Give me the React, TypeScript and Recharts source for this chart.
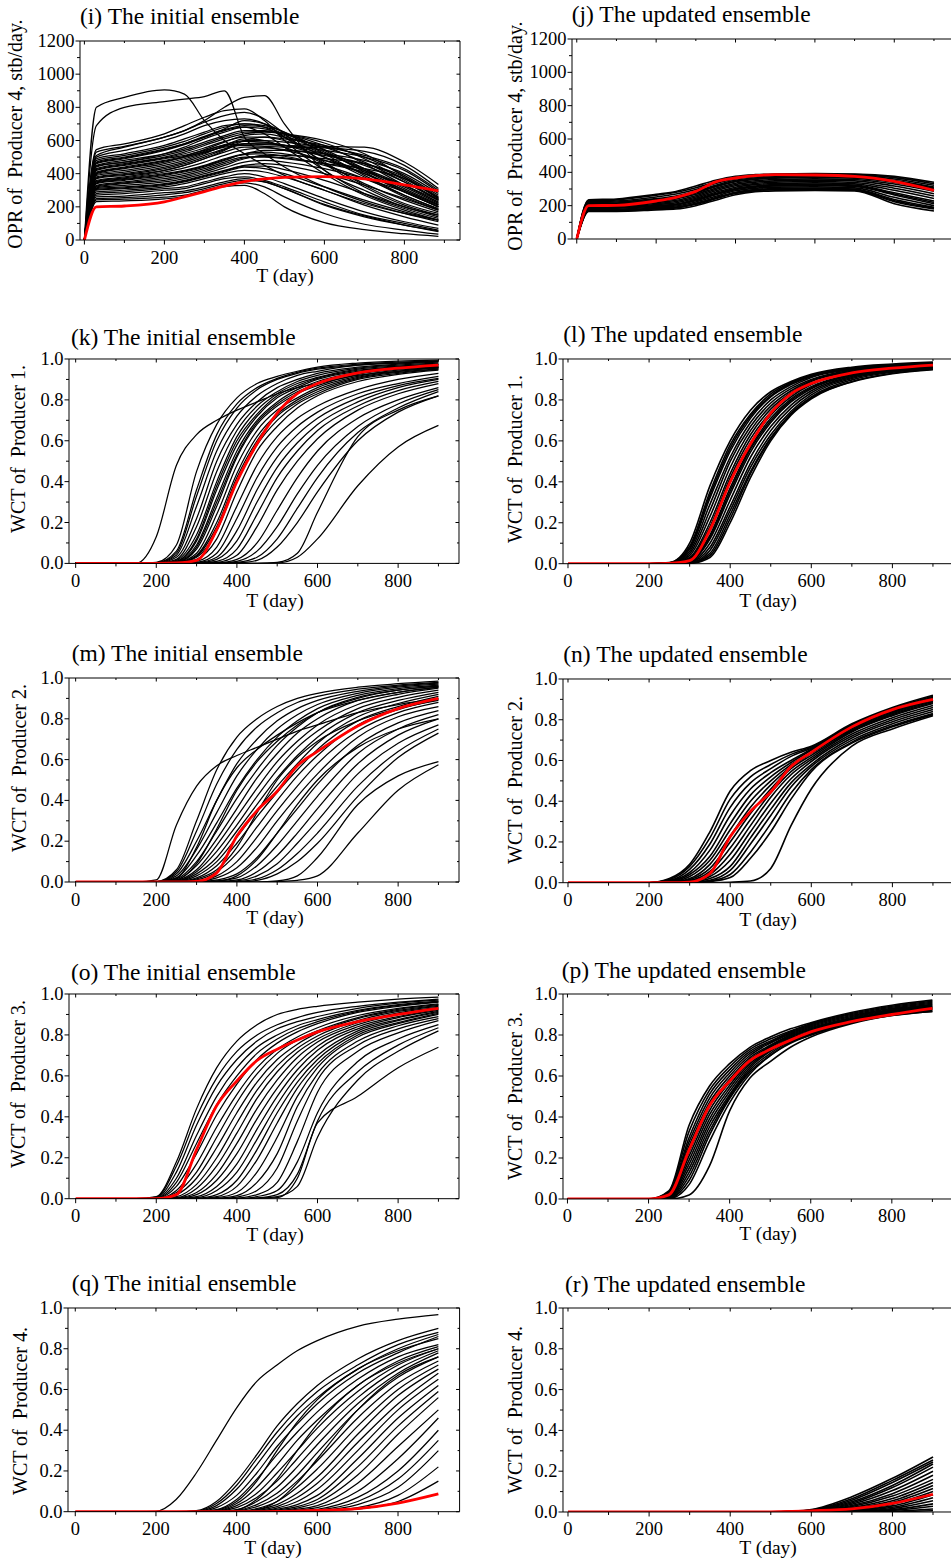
import React from "react";
import { LineChart, Line, XAxis, YAxis, ReferenceLine } from "recharts";

const SERIF = '"Liberation Serif", "Times New Roman", Times, serif';

// ---- ticks ----
const X_TICKS = [0, 100, 200, 300, 400, 500, 600, 700, 800, 900];
const X_TICK_LABELS = [0, 200, 400, 600, 800];
const OPR_TICKS = [0, 100, 200, 300, 400, 500, 600, 700, 800, 900, 1000, 1100, 1200];
const OPR_TICK_LABELS = [0, 200, 400, 600, 800, 1000, 1200];
const WCT_TICKS = [0, 0.1, 0.2, 0.3, 0.4, 0.5, 0.6, 0.7, 0.8, 0.9, 1];
const WCT_TICK_LABELS = [0, 0.2, 0.4, 0.6, 0.8, 1];

// ---- time grids (day) ----
const T_OPR_INIT = [0, 30, 100, 200, 250, 300, 350, 400, 450, 500, 600, 700, 800, 885];
const T_OPR_UPD = [0, 30, 100, 200, 250, 300, 350, 400, 450, 500, 600, 700, 800, 900];
const T_WCT = [0, 150, 200, 250, 300, 350, 400, 450, 500, 550, 600, 700, 800, 900];

// ---- (i) OPR producer 4, initial ensemble ----
const OPR_INIT_TRUTH = [0, 200, 205, 230, 260, 292, 325, 352, 368, 378, 382, 368, 332, 296];
const OPR_INIT_MEMBERS = [
  [0, 800, 860, 905, 880, 720, 600, 520, 450, 390, 300, 220, 160, 120],
  [0, 690, 800, 835, 850, 865, 900, 620, 520, 440, 320, 230, 160, 110],
  [0, 510, 560, 620, 660, 720, 800, 860, 870, 700, 420, 300, 200, 150],
  [0, 545, 580, 640, 690, 740, 780, 790, 720, 600, 420, 280, 190, 130],
  [0, 530, 565, 620, 660, 710, 750, 770, 730, 640, 460, 320, 210, 150],
  [0, 500, 540, 600, 640, 690, 720, 730, 700, 620, 470, 330, 220, 160],
  [0, 490, 520, 570, 610, 650, 690, 700, 680, 620, 500, 380, 260, 180],
  [0, 480, 510, 560, 595, 640, 680, 700, 690, 650, 540, 410, 290, 200],
  [0, 470, 500, 550, 580, 620, 660, 680, 670, 630, 530, 420, 300, 210],
  [0, 465, 495, 545, 580, 625, 665, 690, 680, 640, 545, 430, 310, 215],
  [0, 460, 490, 540, 575, 620, 670, 720, 700, 650, 520, 390, 270, 190],
  [0, 450, 480, 520, 550, 590, 630, 660, 660, 640, 570, 460, 330, 230],
  [0, 445, 470, 510, 540, 580, 620, 650, 655, 640, 585, 490, 360, 245],
  [0, 440, 470, 520, 560, 610, 650, 680, 640, 560, 400, 270, 180, 120],
  [0, 430, 460, 500, 530, 570, 610, 640, 650, 640, 600, 520, 380, 250],
  [0, 425, 455, 495, 520, 555, 595, 620, 620, 610, 570, 500, 390, 270],
  [0, 420, 450, 490, 510, 540, 570, 580, 575, 570, 565, 560, 470, 335],
  [0, 410, 440, 480, 505, 545, 590, 630, 640, 620, 560, 470, 350, 240],
  [0, 405, 435, 475, 500, 535, 575, 600, 600, 590, 560, 510, 430, 300],
  [0, 400, 430, 470, 500, 530, 560, 570, 565, 560, 555, 535, 450, 310],
  [0, 395, 420, 460, 490, 525, 565, 595, 590, 570, 500, 400, 290, 200],
  [0, 390, 410, 450, 480, 520, 570, 610, 600, 560, 460, 340, 240, 170],
  [0, 380, 400, 440, 470, 510, 550, 580, 580, 570, 540, 500, 420, 290],
  [0, 375, 395, 430, 460, 500, 545, 580, 585, 570, 520, 450, 350, 240],
  [0, 370, 390, 420, 450, 490, 530, 560, 560, 540, 480, 400, 300, 210],
  [0, 360, 380, 420, 450, 490, 540, 600, 620, 600, 520, 430, 330, 240],
  [0, 355, 375, 410, 435, 470, 510, 545, 555, 545, 510, 460, 370, 255],
  [0, 350, 370, 400, 420, 450, 490, 520, 530, 520, 480, 420, 320, 220],
  [0, 345, 365, 395, 415, 445, 485, 515, 520, 505, 450, 370, 270, 185],
  [0, 340, 360, 390, 410, 440, 480, 520, 540, 540, 520, 480, 400, 280],
  [0, 330, 350, 380, 400, 430, 470, 500, 500, 490, 460, 430, 370, 250],
  [0, 325, 345, 370, 390, 420, 460, 495, 505, 495, 460, 410, 330, 225],
  [0, 320, 340, 360, 380, 410, 450, 490, 510, 510, 490, 460, 380, 260],
  [0, 315, 330, 350, 370, 400, 435, 470, 480, 470, 430, 370, 290, 200],
  [0, 310, 320, 340, 360, 390, 420, 450, 460, 450, 400, 330, 250, 180],
  [0, 305, 315, 335, 355, 385, 415, 445, 445, 425, 360, 280, 200, 140],
  [0, 300, 310, 330, 350, 380, 410, 440, 430, 400, 320, 240, 170, 120],
  [0, 290, 300, 320, 340, 370, 400, 420, 410, 380, 300, 210, 140, 90],
  [0, 280, 290, 310, 320, 350, 380, 400, 380, 340, 250, 170, 110, 70],
  [0, 270, 280, 300, 310, 340, 370, 380, 360, 320, 230, 150, 100, 60],
  [0, 260, 265, 285, 295, 320, 350, 370, 350, 310, 215, 145, 90, 50],
  [0, 250, 255, 272, 285, 310, 340, 360, 350, 310, 210, 140, 90, 55],
  [0, 242, 246, 258, 270, 300, 330, 345, 320, 260, 160, 95, 60, 35],
  [0, 232, 236, 248, 262, 296, 322, 330, 280, 200, 105, 62, 38, 22],
];

// ---- (j) OPR producer 4, updated ensemble ----
const OPR_UPD_TRUTH = [0, 200, 202, 228, 250, 286, 343, 366, 380, 386, 384, 376, 346, 292];
const OPR_UPD_MEMBERS = [
  [0, 235, 240, 268, 285, 318, 352, 376, 386, 390, 392, 390, 376, 340],
  [0, 230, 235, 262, 280, 308, 342, 368, 380, 386, 389, 386, 368, 332],
  [0, 225, 228, 252, 270, 297, 333, 360, 373, 380, 383, 380, 360, 322],
  [0, 220, 222, 242, 258, 286, 323, 352, 366, 373, 377, 373, 350, 312],
  [0, 215, 216, 233, 248, 276, 313, 343, 357, 365, 369, 365, 340, 300],
  [0, 212, 213, 236, 252, 280, 317, 347, 361, 369, 373, 369, 345, 306],
  [0, 210, 210, 226, 240, 268, 305, 335, 349, 357, 361, 357, 330, 287],
  [0, 205, 205, 219, 232, 260, 297, 327, 341, 349, 353, 349, 318, 272],
  [0, 200, 200, 213, 225, 252, 289, 319, 333, 341, 345, 339, 305, 258],
  [0, 195, 195, 207, 218, 245, 281, 311, 326, 333, 337, 331, 292, 243],
  [0, 190, 190, 201, 210, 238, 273, 303, 318, 326, 329, 323, 278, 228],
  [0, 188, 188, 199, 207, 234, 269, 300, 315, 322, 325, 319, 270, 220],
  [0, 185, 185, 196, 204, 230, 265, 296, 311, 319, 321, 316, 264, 212],
  [0, 180, 180, 191, 198, 222, 257, 289, 304, 311, 313, 307, 250, 200],
  [0, 175, 175, 186, 192, 215, 249, 281, 297, 303, 305, 299, 237, 190],
  [0, 172, 172, 183, 189, 211, 245, 277, 293, 300, 301, 296, 230, 185],
  [0, 170, 170, 181, 186, 208, 241, 273, 290, 296, 297, 293, 224, 180],
  [0, 166, 166, 175, 180, 200, 233, 266, 284, 289, 291, 289, 212, 168],
];

// ---- WCT truths ----
const WCT_P1_TRUTH = [0, 0, 0, 0.002, 0.015, 0.165, 0.4, 0.585, 0.735, 0.83, 0.88, 0.932, 0.955, 0.97];
const WCT_P2_TRUTH = [0, 0, 0, 0, 0.003, 0.045, 0.225, 0.35, 0.445, 0.57, 0.64, 0.765, 0.85, 0.9];
const WCT_P3_TRUTH = [0, 0, 0, 0.02, 0.24, 0.455, 0.575, 0.675, 0.73, 0.775, 0.815, 0.865, 0.9, 0.93];
const WCT_P4_TRUTH = [0, 0, 0, 0, 0, 0, 0, 0, 0.001, 0.003, 0.006, 0.015, 0.042, 0.087];

// ---- (k) WCT producer 1, initial ----
const WCT_P1_INIT = [
  [0, 0, 0.13, 0.48, 0.63, 0.7, 0.75, 0.79, 0.83, 0.86, 0.88, 0.92, 0.94, 0.96],
  [0, 0, 0.005, 0.09, 0.45, 0.68, 0.81, 0.88, 0.915, 0.94, 0.96, 0.98, 0.99, 0.995],
  [0, 0, 0.003, 0.06, 0.36, 0.63, 0.78, 0.86, 0.905, 0.935, 0.955, 0.975, 0.985, 0.99],
  [0, 0, 0.002, 0.05, 0.33, 0.6, 0.76, 0.85, 0.9, 0.93, 0.95, 0.97, 0.98, 0.99],
  [0, 0, 0.002, 0.04, 0.28, 0.55, 0.72, 0.82, 0.88, 0.92, 0.94, 0.97, 0.98, 0.988],
  [0, 0, 0.001, 0.03, 0.22, 0.5, 0.68, 0.79, 0.86, 0.9, 0.93, 0.96, 0.975, 0.985],
  [0, 0, 0, 0.02, 0.18, 0.45, 0.65, 0.77, 0.84, 0.89, 0.92, 0.955, 0.97, 0.98],
  [0, 0, 0, 0.015, 0.14, 0.4, 0.62, 0.75, 0.83, 0.88, 0.91, 0.95, 0.965, 0.975],
  [0, 0, 0, 0.01, 0.12, 0.38, 0.6, 0.73, 0.82, 0.87, 0.905, 0.945, 0.962, 0.972],
  [0, 0, 0, 0.01, 0.11, 0.36, 0.58, 0.72, 0.81, 0.86, 0.9, 0.94, 0.96, 0.97],
  [0, 0, 0, 0.008, 0.09, 0.32, 0.55, 0.7, 0.79, 0.85, 0.89, 0.935, 0.955, 0.965],
  [0, 0, 0, 0.006, 0.08, 0.3, 0.53, 0.69, 0.78, 0.84, 0.88, 0.93, 0.952, 0.962],
  [0, 0, 0, 0.005, 0.07, 0.28, 0.52, 0.68, 0.77, 0.83, 0.87, 0.925, 0.95, 0.96],
  [0, 0, 0, 0.004, 0.05, 0.24, 0.48, 0.65, 0.75, 0.81, 0.86, 0.915, 0.945, 0.958],
  [0, 0, 0, 0.003, 0.04, 0.2, 0.44, 0.62, 0.73, 0.8, 0.85, 0.91, 0.94, 0.955],
  [0, 0, 0, 0.002, 0.035, 0.18, 0.42, 0.6, 0.72, 0.79, 0.84, 0.905, 0.935, 0.952],
  [0, 0, 0, 0.002, 0.03, 0.16, 0.4, 0.58, 0.7, 0.78, 0.83, 0.9, 0.93, 0.95],
  [0, 0, 0, 0.001, 0.02, 0.12, 0.35, 0.55, 0.67, 0.76, 0.82, 0.89, 0.925, 0.945],
  [0, 0, 0, 0, 0.01, 0.08, 0.28, 0.48, 0.62, 0.71, 0.77, 0.85, 0.9, 0.93],
  [0, 0, 0, 0, 0.005, 0.05, 0.22, 0.42, 0.57, 0.67, 0.74, 0.83, 0.88, 0.915],
  [0, 0, 0, 0, 0.003, 0.03, 0.16, 0.36, 0.52, 0.63, 0.71, 0.81, 0.87, 0.905],
  [0, 0, 0, 0, 0.002, 0.02, 0.11, 0.3, 0.47, 0.59, 0.68, 0.79, 0.86, 0.9],
  [0, 0, 0, 0, 0.001, 0.01, 0.07, 0.24, 0.42, 0.55, 0.65, 0.77, 0.845, 0.89],
  [0, 0, 0, 0, 0, 0.005, 0.04, 0.18, 0.36, 0.5, 0.61, 0.75, 0.83, 0.88],
  [0, 0, 0, 0, 0, 0.002, 0.02, 0.1, 0.26, 0.42, 0.55, 0.71, 0.8, 0.86],
  [0, 0, 0, 0, 0, 0, 0.01, 0.06, 0.18, 0.34, 0.48, 0.67, 0.78, 0.85],
  [0, 0, 0, 0, 0, 0, 0.005, 0.03, 0.12, 0.27, 0.42, 0.64, 0.76, 0.84],
  [0, 0, 0, 0, 0, 0, 0.002, 0.015, 0.08, 0.2, 0.35, 0.6, 0.74, 0.82],
  [0, 0, 0, 0, 0, 0, 0, 0, 0.005, 0.05, 0.25, 0.62, 0.75, 0.82],
  [0, 0, 0, 0, 0, 0, 0, 0, 0.002, 0.03, 0.12, 0.38, 0.57, 0.675],
];

// ---- (l) WCT producer 1, updated ----
const WCT_P1_UPD = [
  [0, 0, 0, 0.005, 0.1, 0.38, 0.6, 0.75, 0.84, 0.89, 0.925, 0.96, 0.975, 0.985],
  [0, 0, 0, 0.004, 0.085, 0.35, 0.58, 0.73, 0.83, 0.885, 0.92, 0.955, 0.972, 0.982],
  [0, 0, 0, 0.003, 0.075, 0.335, 0.565, 0.72, 0.82, 0.88, 0.918, 0.953, 0.971, 0.981],
  [0, 0, 0, 0.003, 0.07, 0.32, 0.55, 0.71, 0.815, 0.875, 0.915, 0.952, 0.97, 0.98],
  [0, 0, 0, 0.002, 0.06, 0.29, 0.52, 0.69, 0.8, 0.865, 0.91, 0.948, 0.968, 0.978],
  [0, 0, 0, 0.002, 0.05, 0.26, 0.5, 0.67, 0.785, 0.855, 0.9, 0.945, 0.965, 0.976],
  [0, 0, 0, 0.001, 0.04, 0.23, 0.47, 0.65, 0.77, 0.845, 0.895, 0.94, 0.962, 0.974],
  [0, 0, 0, 0.001, 0.03, 0.2, 0.44, 0.63, 0.755, 0.835, 0.89, 0.937, 0.96, 0.972],
  [0, 0, 0, 0, 0.025, 0.18, 0.42, 0.61, 0.74, 0.825, 0.88, 0.933, 0.957, 0.97],
  [0, 0, 0, 0, 0.02, 0.16, 0.4, 0.59, 0.725, 0.815, 0.875, 0.93, 0.955, 0.968],
  [0, 0, 0, 0, 0.015, 0.14, 0.37, 0.57, 0.71, 0.805, 0.865, 0.925, 0.952, 0.966],
  [0, 0, 0, 0, 0.012, 0.13, 0.355, 0.56, 0.7, 0.798, 0.86, 0.922, 0.951, 0.965],
  [0, 0, 0, 0, 0.01, 0.12, 0.34, 0.545, 0.69, 0.79, 0.855, 0.92, 0.95, 0.964],
  [0, 0, 0, 0, 0.008, 0.1, 0.31, 0.52, 0.67, 0.775, 0.845, 0.915, 0.946, 0.962],
  [0, 0, 0, 0, 0.006, 0.08, 0.28, 0.49, 0.65, 0.76, 0.835, 0.91, 0.943, 0.96],
  [0, 0, 0, 0, 0.004, 0.065, 0.26, 0.47, 0.63, 0.745, 0.825, 0.905, 0.94, 0.957],
  [0, 0, 0, 0, 0.003, 0.05, 0.24, 0.45, 0.615, 0.735, 0.815, 0.898, 0.936, 0.954],
  [0, 0, 0, 0, 0.002, 0.04, 0.22, 0.44, 0.61, 0.73, 0.81, 0.89, 0.93, 0.95],
  [0, 0, 0, 0, 0.001, 0.03, 0.2, 0.42, 0.6, 0.725, 0.805, 0.888, 0.928, 0.948],
];

// ---- (m) WCT producer 2, initial ----
const WCT_P2_INIT = [
  [0, 0, 0.01, 0.28, 0.47, 0.57, 0.62, 0.66, 0.7, 0.74, 0.77, 0.83, 0.87, 0.9],
  [0, 0, 0.002, 0.06, 0.3, 0.55, 0.71, 0.8, 0.86, 0.9, 0.925, 0.955, 0.972, 0.985],
  [0, 0, 0.001, 0.05, 0.25, 0.48, 0.65, 0.76, 0.83, 0.88, 0.91, 0.945, 0.965, 0.978],
  [0, 0, 0, 0.04, 0.2, 0.4, 0.58, 0.7, 0.79, 0.85, 0.89, 0.935, 0.96, 0.975],
  [0, 0, 0, 0.03, 0.16, 0.34, 0.52, 0.65, 0.75, 0.82, 0.87, 0.925, 0.955, 0.97],
  [0, 0, 0, 0.02, 0.13, 0.29, 0.46, 0.6, 0.71, 0.79, 0.85, 0.915, 0.948, 0.965],
  [0, 0, 0, 0.015, 0.1, 0.25, 0.41, 0.55, 0.67, 0.76, 0.83, 0.905, 0.94, 0.96],
  [0, 0, 0, 0.01, 0.08, 0.21, 0.36, 0.51, 0.63, 0.73, 0.8, 0.89, 0.93, 0.955],
  [0, 0, 0, 0.008, 0.06, 0.18, 0.32, 0.46, 0.59, 0.69, 0.77, 0.87, 0.92, 0.95],
  [0, 0, 0, 0.005, 0.05, 0.15, 0.28, 0.42, 0.55, 0.66, 0.74, 0.85, 0.905, 0.94],
  [0, 0, 0, 0.004, 0.04, 0.12, 0.25, 0.38, 0.51, 0.62, 0.71, 0.83, 0.89, 0.93],
  [0, 0, 0, 0.003, 0.03, 0.1, 0.22, 0.35, 0.47, 0.58, 0.68, 0.81, 0.875, 0.92],
  [0, 0, 0, 0.002, 0.02, 0.08, 0.19, 0.32, 0.44, 0.55, 0.65, 0.79, 0.86, 0.91],
  [0, 0, 0, 0, 0.01, 0.05, 0.14, 0.27, 0.4, 0.52, 0.62, 0.77, 0.845, 0.895],
  [0, 0, 0, 0, 0.005, 0.03, 0.1, 0.22, 0.35, 0.47, 0.58, 0.74, 0.83, 0.88],
  [0, 0, 0, 0, 0.002, 0.02, 0.07, 0.17, 0.3, 0.42, 0.53, 0.71, 0.81, 0.86],
  [0, 0, 0, 0, 0, 0.01, 0.04, 0.12, 0.24, 0.36, 0.48, 0.67, 0.78, 0.84],
  [0, 0, 0, 0, 0, 0.005, 0.02, 0.08, 0.18, 0.3, 0.42, 0.63, 0.75, 0.82],
  [0, 0, 0, 0, 0, 0.002, 0.01, 0.05, 0.13, 0.24, 0.36, 0.58, 0.72, 0.8],
  [0, 0, 0, 0, 0, 0, 0.005, 0.03, 0.09, 0.19, 0.3, 0.53, 0.68, 0.77],
  [0, 0, 0, 0, 0, 0, 0.002, 0.015, 0.06, 0.14, 0.24, 0.47, 0.64, 0.75],
  [0, 0, 0, 0, 0, 0, 0, 0.008, 0.04, 0.1, 0.19, 0.42, 0.61, 0.73],
  [0, 0, 0, 0, 0, 0, 0, 0, 0.005, 0.03, 0.12, 0.38, 0.52, 0.59],
  [0, 0, 0, 0, 0, 0, 0, 0, 0.002, 0.008, 0.03, 0.24, 0.45, 0.575],
  [0, 0, 0, 0.02, 0.17, 0.4, 0.56, 0.65, 0.72, 0.78, 0.83, 0.89, 0.93, 0.955],
  [0, 0, 0, 0.01, 0.09, 0.26, 0.45, 0.59, 0.69, 0.77, 0.83, 0.9, 0.94, 0.96],
  [0, 0, 0, 0, 0.015, 0.06, 0.17, 0.34, 0.5, 0.61, 0.69, 0.79, 0.85, 0.89],
  [0, 0, 0, 0, 0, 0.004, 0.03, 0.11, 0.24, 0.38, 0.5, 0.66, 0.75, 0.8],
];

// ---- (n) WCT producer 2, updated ----
const WCT_P2_UPD = [
  [0, 0, 0, 0.02, 0.09, 0.25, 0.45, 0.55, 0.6, 0.64, 0.67, 0.78, 0.86, 0.92],
  [0, 0, 0, 0.015, 0.08, 0.22, 0.41, 0.52, 0.58, 0.63, 0.665, 0.775, 0.855, 0.915],
  [0, 0, 0, 0.01, 0.065, 0.19, 0.37, 0.49, 0.56, 0.62, 0.66, 0.77, 0.85, 0.91],
  [0, 0, 0, 0.008, 0.05, 0.16, 0.33, 0.46, 0.54, 0.6, 0.655, 0.765, 0.845, 0.905],
  [0, 0, 0, 0.005, 0.04, 0.13, 0.29, 0.43, 0.52, 0.59, 0.65, 0.76, 0.84, 0.9],
  [0, 0, 0, 0.003, 0.03, 0.11, 0.26, 0.4, 0.5, 0.58, 0.64, 0.755, 0.835, 0.895],
  [0, 0, 0, 0.002, 0.02, 0.09, 0.23, 0.37, 0.48, 0.57, 0.635, 0.75, 0.83, 0.89],
  [0, 0, 0, 0.001, 0.015, 0.07, 0.2, 0.34, 0.46, 0.56, 0.625, 0.745, 0.825, 0.885],
  [0, 0, 0, 0, 0.01, 0.055, 0.17, 0.31, 0.44, 0.545, 0.615, 0.74, 0.82, 0.88],
  [0, 0, 0, 0, 0.007, 0.04, 0.14, 0.28, 0.42, 0.53, 0.605, 0.73, 0.81, 0.87],
  [0, 0, 0, 0, 0.005, 0.03, 0.11, 0.25, 0.39, 0.51, 0.595, 0.72, 0.8, 0.86],
  [0, 0, 0, 0, 0.003, 0.02, 0.08, 0.22, 0.36, 0.49, 0.58, 0.71, 0.79, 0.85],
  [0, 0, 0, 0, 0.002, 0.012, 0.06, 0.19, 0.33, 0.47, 0.57, 0.7, 0.78, 0.84],
  [0, 0, 0, 0, 0.001, 0.008, 0.04, 0.15, 0.29, 0.44, 0.555, 0.69, 0.77, 0.83],
  [0, 0, 0, 0, 0, 0.005, 0.025, 0.12, 0.25, 0.41, 0.545, 0.685, 0.765, 0.825],
  [0, 0, 0, 0, 0, 0, 0.002, 0.008, 0.07, 0.28, 0.46, 0.67, 0.755, 0.82],
];

// ---- (o) WCT producer 3, initial ----
const WCT_P3_INIT = [
  [0, 0, 0.01, 0.18, 0.44, 0.64, 0.77, 0.85, 0.9, 0.925, 0.94, 0.96, 0.975, 0.985],
  [0, 0, 0.008, 0.16, 0.4, 0.59, 0.72, 0.8, 0.85, 0.885, 0.91, 0.94, 0.96, 0.975],
  [0, 0, 0.005, 0.13, 0.36, 0.55, 0.68, 0.77, 0.83, 0.865, 0.89, 0.93, 0.955, 0.97],
  [0, 0, 0.003, 0.1, 0.31, 0.5, 0.64, 0.74, 0.8, 0.845, 0.875, 0.92, 0.948, 0.965],
  [0, 0, 0.002, 0.08, 0.27, 0.46, 0.6, 0.71, 0.78, 0.83, 0.865, 0.915, 0.944, 0.962],
  [0, 0, 0.001, 0.06, 0.22, 0.41, 0.56, 0.68, 0.76, 0.815, 0.855, 0.91, 0.94, 0.96],
  [0, 0, 0, 0.04, 0.17, 0.35, 0.51, 0.64, 0.73, 0.79, 0.835, 0.895, 0.93, 0.952],
  [0, 0, 0, 0.03, 0.13, 0.3, 0.47, 0.61, 0.71, 0.775, 0.82, 0.885, 0.925, 0.948],
  [0, 0, 0, 0.02, 0.1, 0.25, 0.42, 0.57, 0.68, 0.755, 0.81, 0.88, 0.92, 0.945],
  [0, 0, 0, 0.01, 0.07, 0.2, 0.37, 0.53, 0.65, 0.735, 0.795, 0.87, 0.915, 0.94],
  [0, 0, 0, 0.005, 0.05, 0.16, 0.32, 0.49, 0.62, 0.715, 0.78, 0.86, 0.908, 0.935],
  [0, 0, 0, 0.003, 0.03, 0.12, 0.27, 0.44, 0.58, 0.69, 0.765, 0.85, 0.9, 0.93],
  [0, 0, 0, 0.002, 0.02, 0.09, 0.22, 0.39, 0.54, 0.66, 0.745, 0.84, 0.89, 0.925],
  [0, 0, 0, 0, 0.01, 0.06, 0.17, 0.34, 0.5, 0.63, 0.725, 0.83, 0.885, 0.92],
  [0, 0, 0, 0, 0.005, 0.04, 0.13, 0.29, 0.46, 0.6, 0.7, 0.82, 0.875, 0.915],
  [0, 0, 0, 0, 0.002, 0.02, 0.09, 0.24, 0.42, 0.57, 0.68, 0.81, 0.87, 0.91],
  [0, 0, 0, 0, 0, 0.01, 0.06, 0.19, 0.37, 0.54, 0.66, 0.8, 0.86, 0.905],
  [0, 0, 0, 0, 0, 0.005, 0.03, 0.13, 0.3, 0.5, 0.64, 0.79, 0.855, 0.9],
  [0, 0, 0, 0, 0, 0.002, 0.015, 0.08, 0.22, 0.45, 0.61, 0.77, 0.845, 0.89],
  [0, 0, 0, 0, 0, 0, 0.008, 0.04, 0.15, 0.38, 0.58, 0.75, 0.83, 0.88],
  [0, 0, 0, 0, 0, 0, 0.003, 0.02, 0.08, 0.28, 0.52, 0.72, 0.81, 0.87],
  [0, 0, 0, 0, 0, 0, 0, 0.01, 0.04, 0.18, 0.42, 0.67, 0.78, 0.85],
  [0, 0, 0, 0, 0, 0, 0, 0.004, 0.02, 0.12, 0.38, 0.62, 0.75, 0.835],
  [0, 0, 0, 0, 0, 0, 0, 0.002, 0.01, 0.06, 0.3, 0.58, 0.72, 0.82],
  [0, 0, 0, 0, 0, 0, 0, 0, 0.005, 0.1, 0.37, 0.5, 0.64, 0.74],
];

// ---- (p) WCT producer 3, updated ----
const WCT_P3_UPD = [
  [0, 0, 0, 0.04, 0.36, 0.55, 0.66, 0.74, 0.79, 0.83, 0.86, 0.91, 0.945, 0.97],
  [0, 0, 0, 0.035, 0.33, 0.53, 0.645, 0.73, 0.78, 0.82, 0.855, 0.905, 0.94, 0.965],
  [0, 0, 0, 0.03, 0.3, 0.51, 0.63, 0.72, 0.77, 0.815, 0.85, 0.9, 0.935, 0.96],
  [0, 0, 0, 0.025, 0.28, 0.49, 0.615, 0.71, 0.765, 0.81, 0.845, 0.895, 0.93, 0.955],
  [0, 0, 0, 0.02, 0.26, 0.47, 0.6, 0.7, 0.76, 0.805, 0.84, 0.89, 0.926, 0.95],
  [0, 0, 0, 0.015, 0.23, 0.45, 0.585, 0.69, 0.75, 0.8, 0.835, 0.885, 0.922, 0.946],
  [0, 0, 0, 0.012, 0.21, 0.43, 0.57, 0.68, 0.745, 0.795, 0.83, 0.88, 0.918, 0.942],
  [0, 0, 0, 0.01, 0.19, 0.41, 0.555, 0.67, 0.74, 0.79, 0.825, 0.877, 0.915, 0.938],
  [0, 0, 0, 0.008, 0.17, 0.39, 0.54, 0.66, 0.73, 0.785, 0.82, 0.873, 0.912, 0.935],
  [0, 0, 0, 0.006, 0.15, 0.37, 0.525, 0.65, 0.725, 0.78, 0.815, 0.87, 0.908, 0.932],
  [0, 0, 0, 0.004, 0.13, 0.35, 0.51, 0.64, 0.72, 0.775, 0.81, 0.867, 0.905, 0.928],
  [0, 0, 0, 0.003, 0.11, 0.33, 0.5, 0.63, 0.71, 0.77, 0.805, 0.863, 0.902, 0.925],
  [0, 0, 0, 0.002, 0.09, 0.31, 0.49, 0.62, 0.7, 0.765, 0.8, 0.86, 0.9, 0.92],
  [0, 0, 0, 0.001, 0.07, 0.28, 0.47, 0.61, 0.7, 0.76, 0.8, 0.86, 0.895, 0.915],
  [0, 0, 0, 0, 0.02, 0.16, 0.43, 0.59, 0.67, 0.74, 0.79, 0.855, 0.895, 0.915],
];

// ---- (q) WCT producer 4, initial ----
const WCT_P4_INIT = [
  [0, 0, 0.002, 0.06, 0.19, 0.35, 0.51, 0.64, 0.72, 0.79, 0.84, 0.91, 0.945, 0.967],
  [0, 0, 0, 0, 0.005, 0.05, 0.15, 0.28, 0.42, 0.53, 0.62, 0.75, 0.84, 0.9],
  [0, 0, 0, 0, 0.003, 0.04, 0.13, 0.26, 0.39, 0.5, 0.59, 0.72, 0.82, 0.88],
  [0, 0, 0, 0, 0.002, 0.03, 0.11, 0.23, 0.36, 0.47, 0.56, 0.7, 0.8, 0.87],
  [0, 0, 0, 0, 0, 0.02, 0.08, 0.19, 0.32, 0.43, 0.53, 0.68, 0.78, 0.86],
  [0, 0, 0, 0, 0, 0.008, 0.05, 0.15, 0.3, 0.44, 0.55, 0.7, 0.79, 0.85],
  [0, 0, 0, 0, 0, 0.01, 0.06, 0.16, 0.28, 0.39, 0.49, 0.65, 0.76, 0.82],
  [0, 0, 0, 0, 0, 0.005, 0.04, 0.12, 0.23, 0.35, 0.45, 0.62, 0.74, 0.81],
  [0, 0, 0, 0, 0, 0.003, 0.03, 0.09, 0.19, 0.3, 0.41, 0.59, 0.72, 0.8],
  [0, 0, 0, 0, 0, 0, 0.008, 0.06, 0.16, 0.3, 0.43, 0.62, 0.73, 0.8],
  [0, 0, 0, 0, 0, 0.002, 0.02, 0.07, 0.15, 0.26, 0.37, 0.56, 0.7, 0.79],
  [0, 0, 0, 0, 0, 0, 0.01, 0.05, 0.12, 0.22, 0.33, 0.53, 0.68, 0.78],
  [0, 0, 0, 0, 0, 0, 0.006, 0.035, 0.09, 0.18, 0.29, 0.5, 0.66, 0.76],
  [0, 0, 0, 0, 0, 0, 0, 0.01, 0.05, 0.14, 0.26, 0.5, 0.67, 0.76],
  [0, 0, 0, 0, 0, 0, 0.004, 0.025, 0.07, 0.15, 0.25, 0.46, 0.63, 0.74],
  [0, 0, 0, 0, 0, 0, 0.002, 0.015, 0.05, 0.12, 0.21, 0.42, 0.6, 0.72],
  [0, 0, 0, 0, 0, 0, 0, 0.01, 0.035, 0.09, 0.17, 0.38, 0.57, 0.7],
  [0, 0, 0, 0, 0, 0, 0, 0.006, 0.025, 0.07, 0.14, 0.34, 0.53, 0.68],
  [0, 0, 0, 0, 0, 0, 0, 0.004, 0.018, 0.05, 0.11, 0.3, 0.5, 0.65],
  [0, 0, 0, 0, 0, 0, 0, 0.002, 0.012, 0.035, 0.08, 0.26, 0.46, 0.62],
  [0, 0, 0, 0, 0, 0, 0, 0, 0.008, 0.025, 0.06, 0.22, 0.42, 0.59],
  [0, 0, 0, 0, 0, 0, 0, 0, 0.005, 0.018, 0.045, 0.18, 0.38, 0.56],
  [0, 0, 0, 0, 0, 0, 0, 0, 0.003, 0.012, 0.03, 0.14, 0.32, 0.5],
  [0, 0, 0, 0, 0, 0, 0, 0, 0.002, 0.008, 0.02, 0.1, 0.26, 0.46],
  [0, 0, 0, 0, 0, 0, 0, 0, 0, 0.005, 0.012, 0.07, 0.2, 0.4],
  [0, 0, 0, 0, 0, 0, 0, 0, 0, 0.003, 0.008, 0.05, 0.16, 0.35],
  [0, 0, 0, 0, 0, 0, 0, 0, 0, 0.002, 0.005, 0.035, 0.12, 0.3],
  [0, 0, 0, 0, 0, 0, 0, 0, 0, 0, 0.003, 0.02, 0.08, 0.22],
  [0, 0, 0, 0, 0, 0, 0, 0, 0, 0, 0.002, 0.012, 0.05, 0.15],
];

// ---- (r) WCT producer 4, updated ----
const WCT_P4_UPD = [
  [0, 0, 0, 0, 0, 0, 0, 0, 0, 0.003, 0.012, 0.075, 0.165, 0.27],
  [0, 0, 0, 0, 0, 0, 0, 0, 0, 0.002, 0.01, 0.065, 0.155, 0.255],
  [0, 0, 0, 0, 0, 0, 0, 0, 0, 0.002, 0.009, 0.058, 0.145, 0.245],
  [0, 0, 0, 0, 0, 0, 0, 0, 0, 0.001, 0.008, 0.05, 0.13, 0.235],
  [0, 0, 0, 0, 0, 0, 0, 0, 0, 0.001, 0.007, 0.044, 0.12, 0.22],
  [0, 0, 0, 0, 0, 0, 0, 0, 0, 0.001, 0.006, 0.038, 0.105, 0.2],
  [0, 0, 0, 0, 0, 0, 0, 0, 0, 0, 0.005, 0.032, 0.09, 0.18],
  [0, 0, 0, 0, 0, 0, 0, 0, 0, 0, 0.004, 0.027, 0.078, 0.16],
  [0, 0, 0, 0, 0, 0, 0, 0, 0, 0, 0.003, 0.022, 0.066, 0.145],
  [0, 0, 0, 0, 0, 0, 0, 0, 0, 0, 0.003, 0.018, 0.055, 0.13],
  [0, 0, 0, 0, 0, 0, 0, 0, 0, 0, 0.002, 0.014, 0.046, 0.115],
  [0, 0, 0, 0, 0, 0, 0, 0, 0, 0, 0.002, 0.011, 0.038, 0.1],
  [0, 0, 0, 0, 0, 0, 0, 0, 0, 0, 0.001, 0.008, 0.03, 0.085],
  [0, 0, 0, 0, 0, 0, 0, 0, 0, 0, 0.001, 0.006, 0.023, 0.07],
  [0, 0, 0, 0, 0, 0, 0, 0, 0, 0, 0, 0.004, 0.017, 0.055],
  [0, 0, 0, 0, 0, 0, 0, 0, 0, 0, 0, 0.003, 0.012, 0.04],
  [0, 0, 0, 0, 0, 0, 0, 0, 0, 0, 0, 0.002, 0.008, 0.028],
  [0, 0, 0, 0, 0, 0, 0, 0, 0, 0, 0, 0.001, 0.004, 0.015],
  [0, 0, 0, 0, 0, 0, 0, 0, 0, 0, 0, 0.001, 0.002, 0.006],
];

type Box = { x: number; y: number; w: number; h: number };

const ML = 55;
const MT = 16;
const MR = 6;
const XH = 35;

function XTick(props: any) {
  const { x, y, payload, plotH, showLabel } = props;
  const v: number = payload.value;
  const major = X_TICK_LABELS.includes(v);
  const len = major ? 4.5 : 3;
  return (
    <g>
      <line x1={x} x2={x} y1={y} y2={y + len} stroke="#000" strokeWidth={1} />
      <line x1={x} x2={x} y1={y - plotH} y2={y - plotH + len - 1} stroke="#000" strokeWidth={1} />
      {showLabel && major ? (
        <text
          x={x}
          y={y + 17.5}
          textAnchor="middle"
          dominantBaseline="central"
          fontFamily={SERIF}
          fontSize={18.5}
          fill="#000"
        >
          {v}
        </text>
      ) : null}
    </g>
  );
}

function YTick(props: any) {
  const { x, y, payload, plotW, labels, wct } = props;
  const v: number = payload.value;
  const major = labels.includes(v);
  const len = major ? 4.5 : 3;
  return (
    <g>
      <line x1={x - len} x2={x} y1={y} y2={y} stroke="#000" strokeWidth={1} />
      <line x1={x + plotW} x2={x + plotW - len + 1} y1={y} y2={y} stroke="#000" strokeWidth={1} />
      {major ? (
        <text
          x={x - 5.5}
          y={y}
          textAnchor="end"
          dominantBaseline="central"
          fontFamily={SERIF}
          fontSize={18.5}
          fill="#000"
        >
          {wct ? v.toFixed(1) : String(v)}
        </text>
      ) : null}
    </g>
  );
}

type PanelProps = {
  box: Box;
  xDomain: [number, number];
  wct: boolean;
  t: number[];
  members: number[][];
  truth: number[];
  showXLabels: boolean;
  memberWidth: number;
};

function Panel({ box, xDomain, wct, t, members, truth, showXLabels, memberWidth }: PanelProps) {
  const rows = t.map((day, i) => {
    const row: Record<string, number> = { t: day, truth: truth[i] };
    members.forEach((m, k) => {
      row[`m${k}`] = m[i];
    });
    return row;
  });
  const yTicks = wct ? WCT_TICKS : OPR_TICKS;
  const yLabels = wct ? WCT_TICK_LABELS : OPR_TICK_LABELS;
  const yMax = yTicks[yTicks.length - 1];

  return (
    <div style={{ position: "absolute", left: box.x - ML, top: box.y - MT }}>
      <LineChart
        width={box.w + ML + MR}
        height={box.h + MT + XH}
        data={rows}
        margin={{ top: MT, right: MR, bottom: 0, left: 0 }}
      >
        <XAxis
          dataKey="t"
          type="number"
          domain={xDomain}
          allowDataOverflow
          ticks={X_TICKS}
          interval={0}
          height={XH}
          tickSize={0}
          tickMargin={0}
          tickLine={false}
          axisLine={{ stroke: "#000", strokeWidth: 1 }}
          tick={(p: any) => <XTick {...p} plotH={box.h} showLabel={showXLabels} />}
        />
        <YAxis
          type="number"
          domain={[0, yMax]}
          allowDataOverflow
          ticks={yTicks}
          interval={0}
          width={ML}
          tickSize={0}
          tickMargin={0}
          tickLine={false}
          axisLine={{ stroke: "#000", strokeWidth: 1 }}
          tick={(p: any) => <YTick {...p} plotW={box.w} labels={yLabels} wct={wct} />}
        />
        <ReferenceLine y={yMax} stroke="#000" strokeWidth={1} />
        <ReferenceLine x={xDomain[1]} stroke="#000" strokeWidth={1} />
        {members.map((_, k) => (
          <Line
            key={k}
            type="monotone"
            dataKey={`m${k}`}
            stroke="#000"
            strokeWidth={memberWidth}
            dot={false}
            activeDot={false}
            isAnimationActive={false}
          />
        ))}
        <Line
          type="monotone"
          dataKey="truth"
          stroke="#ff0000"
          strokeWidth={2.8}
          dot={false}
          activeDot={false}
          isAnimationActive={false}
        />
      </LineChart>
    </div>
  );
}

function Title({ text, x, cy }: { text: string; x: number; cy: number }) {
  return (
    <div
      style={{
        position: "absolute",
        left: x,
        top: cy - 14.4,
        fontFamily: SERIF,
        fontSize: 23.5,
        lineHeight: "24px",
        whiteSpace: "pre",
        color: "#000",
      }}
    >
      {text}
    </div>
  );
}

function YLabel({ text, cx, cy }: { text: string; cx: number; cy: number }) {
  return (
    <div
      style={{
        position: "absolute",
        left: cx - 2,
        top: cy,
        transform: "translate(-50%, -50%) rotate(-90deg)",
        fontFamily: SERIF,
        fontSize: 20,
        lineHeight: "20px",
        whiteSpace: "pre",
        color: "#000",
      }}
    >
      {text}
    </div>
  );
}

function XLabel({ cx, cy }: { cx: number; cy: number }) {
  return (
    <div
      style={{
        position: "absolute",
        left: cx,
        top: cy - 12,
        transform: "translateX(-50%)",
        fontFamily: SERIF,
        fontSize: 19.5,
        lineHeight: "20px",
        whiteSpace: "pre",
        color: "#000",
      }}
    >
      T (day)
    </div>
  );
}

const OPR_LABEL = "OPR of  Producer 4, stb/day.";
const INIT_W = 1.25;
const UPD_W = 1.6;

export default function App() {
  return (
    <div
      style={{
        position: "absolute",
        left: 0,
        top: 0,
        width: 951,
        height: 1561,
        overflow: "hidden",
        background: "#fff",
      }}
    >
      {/* row 1: OPR producer 4 */}
      <Panel box={{ x: 80, y: 41, w: 380, h: 199 }} xDomain={[-11, 939]} wct={false}
        t={T_OPR_INIT} members={OPR_INIT_MEMBERS} truth={OPR_INIT_TRUTH} showXLabels memberWidth={INIT_W} />
      <Panel box={{ x: 572, y: 39, w: 383, h: 200 }} xDomain={[-12, 953]} wct={false}
        t={T_OPR_UPD} members={OPR_UPD_MEMBERS} truth={OPR_UPD_TRUTH} showXLabels={false} memberWidth={UPD_W} />
      <Title text="(i) The initial ensemble" x={80} cy={18} />
      <Title text="(j) The updated ensemble" x={571.7} cy={16.5} />
      <YLabel text={OPR_LABEL} cx={17} cy={134} />
      <YLabel text={OPR_LABEL} cx={517} cy={136} />
      <XLabel cx={285} cy={278} />

      {/* row 2: WCT producer 1 */}
      <Panel box={{ x: 69, y: 359.3, w: 390, h: 204.4 }} xDomain={[-16.5, 951]} wct
        t={T_WCT} members={WCT_P1_INIT} truth={WCT_P1_TRUTH} showXLabels memberWidth={INIT_W} />
      <Panel box={{ x: 563.3, y: 359, w: 391.7, h: 204.7 }} xDomain={[-12.3, 953.6]} wct
        t={T_WCT} members={WCT_P1_UPD} truth={WCT_P1_TRUTH} showXLabels memberWidth={UPD_W} />
      <Title text="(k) The initial ensemble" x={71} cy={339} />
      <Title text="(l) The updated ensemble" x={563.3} cy={336} />
      <YLabel text="WCT of  Producer 1." cx={20} cy={449} />
      <YLabel text="WCT of  Producer 1." cx={517} cy={459} />
      <XLabel cx={275} cy={603} />
      <XLabel cx={768} cy={603} />

      {/* row 3: WCT producer 2 */}
      <Panel box={{ x: 69, y: 678.3, w: 390, h: 204 }} xDomain={[-16.5, 951]} wct
        t={T_WCT} members={WCT_P2_INIT} truth={WCT_P2_TRUTH} showXLabels memberWidth={INIT_W} />
      <Panel box={{ x: 563.3, y: 679, w: 391.7, h: 203.7 }} xDomain={[-12.3, 953.6]} wct
        t={T_WCT} members={WCT_P2_UPD} truth={WCT_P2_TRUTH} showXLabels memberWidth={UPD_W} />
      <Title text="(m) The initial ensemble" x={71.7} cy={655.5} />
      <Title text="(n) The updated ensemble" x={563.3} cy={656} />
      <YLabel text="WCT of  Producer 2." cx={21} cy={768} />
      <YLabel text="WCT of  Producer 2." cx={517} cy={780} />
      <XLabel cx={275} cy={920} />
      <XLabel cx={768} cy={922} />

      {/* row 4: WCT producer 3 */}
      <Panel box={{ x: 69, y: 994.3, w: 390, h: 204.7 }} xDomain={[-16.5, 951]} wct
        t={T_WCT} members={WCT_P3_INIT} truth={WCT_P3_TRUTH} showXLabels memberWidth={INIT_W} />
      <Panel box={{ x: 563.3, y: 994.3, w: 391.7, h: 205 }} xDomain={[-11, 955]} wct
        t={T_WCT} members={WCT_P3_UPD} truth={WCT_P3_TRUTH} showXLabels memberWidth={UPD_W} />
      <Title text="(o) The initial ensemble" x={71} cy={974} />
      <Title text="(p) The updated ensemble" x={561.7} cy={972} />
      <YLabel text="WCT of  Producer 3." cx={20} cy={1084} />
      <YLabel text="WCT of  Producer 3." cx={517} cy={1096} />
      <XLabel cx={275} cy={1237} />
      <XLabel cx={768} cy={1236} />

      {/* row 5: WCT producer 4 */}
      <Panel box={{ x: 67.7, y: 1308.3, w: 391.6, h: 203.7 }} xDomain={[-18, 952.6]} wct
        t={T_WCT} members={WCT_P4_INIT} truth={WCT_P4_TRUTH} showXLabels memberWidth={INIT_W} />
      <Panel box={{ x: 562.7, y: 1307.7, w: 392.3, h: 204 }} xDomain={[-12.3, 955]} wct
        t={T_WCT} members={WCT_P4_UPD} truth={WCT_P4_TRUTH} showXLabels memberWidth={UPD_W} />
      <Title text="(q) The initial ensemble" x={71.7} cy={1285} />
      <Title text="(r) The updated ensemble" x={565} cy={1286} />
      <YLabel text="WCT of  Producer 4." cx={21.7} cy={1411} />
      <YLabel text="WCT of  Producer 4." cx={516.7} cy={1410} />
      <XLabel cx={273} cy={1550} />
      <XLabel cx={768} cy={1550} />
    </div>
  );
}
